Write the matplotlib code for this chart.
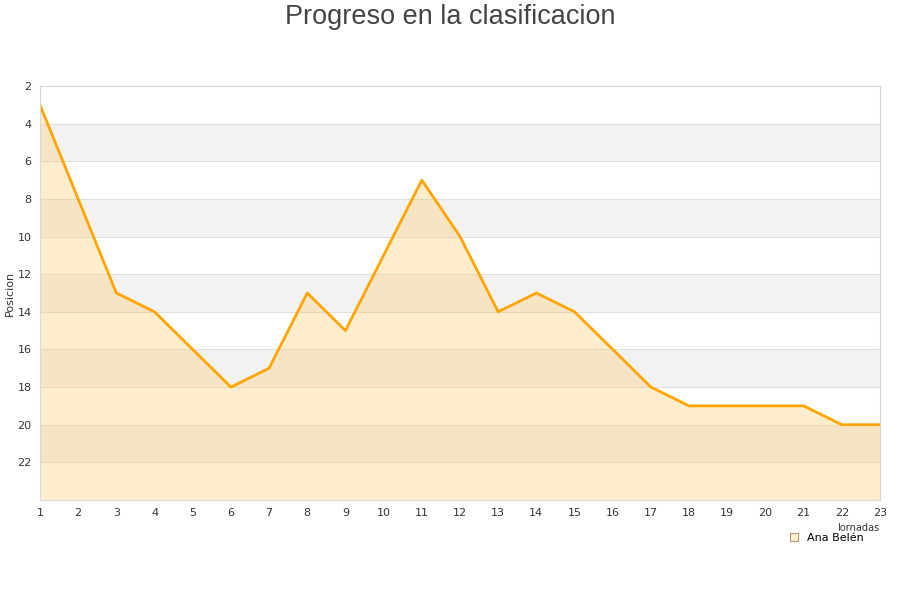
import matplotlib
matplotlib.use("Agg")
import matplotlib.pyplot as plt
from matplotlib.patches import Patch

jornadas = list(range(1, 24))
posicion = [3, 8, 13, 14, 16, 18, 17, 13, 15, 11, 7, 10, 14, 13, 14, 16, 18, 19, 19, 19, 19, 20, 20]
yticks = list(range(2, 24, 2))
jugador = "Ana Belén"

fig = plt.figure(figsize=(9, 6), dpi=100)
ax = fig.add_axes([0.0444, 0.1667, 0.9334, 0.69])

# alternate bands
for y0 in range(4, 24, 4):
    ax.axhspan(y0, y0 + 2, color="#f2f2f2", zorder=0, lw=0)
for y in yticks:
    ax.axhline(y, color="#e0e0e0", lw=0.8, zorder=0.5)

ax.fill_between(jornadas, posicion, 24, color="#ffc966", alpha=0.32, lw=0, zorder=1)
ax.plot(jornadas, posicion, color="#ffa500", lw=2, zorder=2)

ax.set_xlim(1, 23)
ax.set_ylim(24, 2)
ax.set_xticks(jornadas)
ax.set_yticks(yticks)
ax.tick_params(length=0, labelsize=8, colors="#333333", pad=6)
for s in ax.spines.values():
    s.set_color("#d8d8d8")
    s.set_linewidth(0.8)

ax.set_ylabel("Posicion", fontsize=8, color="#333333", labelpad=2)
ax.set_xlabel("Jornadas", fontsize=7, color="#333333", ha="right")
ax.xaxis.set_label_coords(1.0, -0.055)

fig.text(0.5, 0.972, "Progreso en la clasificacion", fontsize=19.5, color="#444444",
         ha="center", va="center", family="Liberation Sans")

h = [Patch(facecolor="#ffedcc", edgecolor="#a08050", lw=0.6)]
leg = fig.legend(h, [jugador], loc="upper right", bbox_to_anchor=(0.968, 0.125),
                 fontsize=8, frameon=True, handlelength=0.7, handleheight=0.7,
                 handletextpad=0.8, borderpad=0.2)
leg.get_frame().set_edgecolor("white")
leg.get_frame().set_facecolor("white")
leg.get_frame().set_alpha(1)
leg.set_zorder(10)

fig.savefig("out.png", dpi=100)
